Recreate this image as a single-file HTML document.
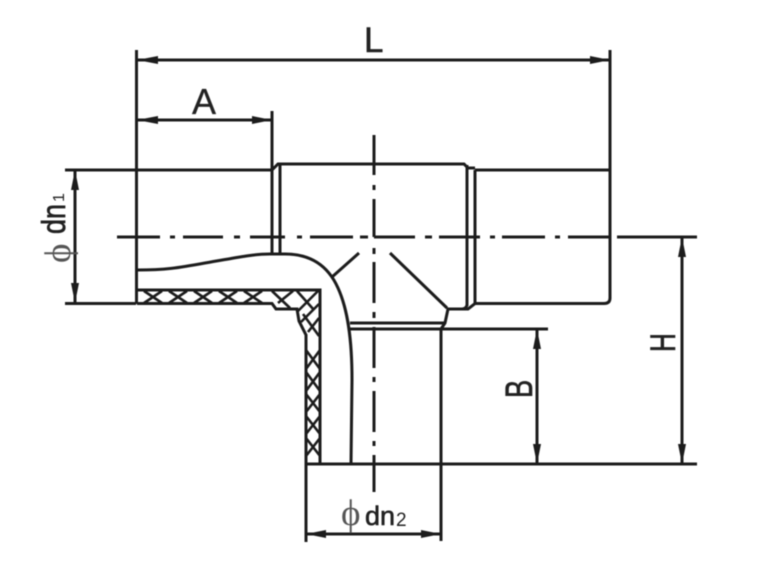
<!DOCTYPE html>
<html><head><meta charset="utf-8">
<style>
html,body{margin:0;padding:0;background:#fff;width:779px;height:567px;overflow:hidden}
svg{display:block;filter:blur(0.4px)}
text{font-family:"Liberation Sans",sans-serif;fill:#222}
</style></head><body>
<svg width="779" height="567" viewBox="0 0 779 567" xmlns="http://www.w3.org/2000/svg">
<rect width="779" height="567" fill="#fff"/>
<g fill="none" stroke="#1c1c1c" stroke-width="3">
<!-- extension and outline lines -->
<path d="M136.5 50V304"/>
<path d="M610 50V298Q610 303.5 604 303.5H475"/>
<path d="M272 111V254"/>
<path d="M65 170H272"/>
<path d="M65 303.5H136"/>
<path d="M280 165V254"/>
<path d="M272 170L278 164H464L468 168H475M610 170H475"/>
<path d="M467 165V306"/>
<path d="M475 170V303.5L468 309H448L445 323L441 329"/>
<path d="M448 309H462Q466 309 467 305"/>
<path d="M350 323H445M350 329H548"/>
<path d="M441 329V541"/>
<path d="M306 464V542"/>
<path d="M306 464H697"/>
<path d="M617 237H697"/>
<path d="M390 253L447 308"/>
<path d="M359 253L332 277"/>
<!-- inner curve -->
<path d="M137 270C165 270 178 268 205 263C235 258 252 254 270 254H285C315 254 330 270 338 288C348 310 352 340 352 380L351 464"/>
<!-- hatched wall -->
<path d="M137 290H320V464"/>
<path d="M137 303.5H272L276 309H297L299 321L306 335V464"/>
<!-- horizontal hatching -->
<path stroke-width="2.6" d="M144 291L162 303M162 291L144 303M169 291L187 303M187 291L169 303M194 291L212 303M212 291L194 303M219 291L237 303M237 291L219 303M244 291L262 303M262 291L244 303"/>
<path stroke-width="2.6" d="M272 291L290 308M278 303L293 291M297 291L314 310M298 311L318 291M301 322L319 304M303 314L319 336M308 332L319 318"/>
<!-- vertical hatching -->
<path stroke-width="2.6" d="M306 350L320 369M320 350L306 369M306 372L320 391M320 372L306 391M306 394L320 412M320 394L306 412M306 416L320 434M320 416L306 434M306 438L320 456M320 438L306 456"/>
<!-- dimension lines -->
<path d="M137 60H610"/>
<path d="M137 120H272"/>
<path d="M75 170V303"/>
<path d="M306 534H441"/>
<path d="M537 329V464"/>
<path d="M682 237V464"/>
<!-- centre lines -->
<path d="M117 237H160M170 237H175M183 237H223M234 237H240M250 237H285M297 237H302M310 237H353M360 237H368M374 237H415M425 237H432M439 237H480M490 237H495M502 237H545M555 237H560M568 237H610"/>
<path d="M374 135V175M374 185V190M374 199V237M374 248V254M374 262V303M374 312V318M374 327V368M374 377V382M374 391V432M374 441V446M374 455V492"/>
</g>
<!-- arrowheads -->
<g fill="#1c1c1c">
<path d="M137 60L158 56V64Z"/>
<path d="M610 60L590 56V64Z"/>
<path d="M137 120L158 116V124Z"/>
<path d="M272 120L252 116V124Z"/>
<path d="M75 170L71 190H79Z"/>
<path d="M75 303L71 283H79Z"/>
<path d="M306 534L326 530V538Z"/>
<path d="M441 534L421 530V538Z"/>
<path d="M537 329L533 349H541Z"/>
<path d="M537 464L533 444H541Z"/>
<path d="M682 237L678 257H686Z"/>
<path d="M682 464L678 444H686Z"/>
</g>
<!-- labels -->
<text x="364" y="52" font-size="35" stroke="#222" stroke-width="0.5">L</text>
<text x="192" y="114" font-size="36" stroke="#222" stroke-width="0.3">A</text>
<g transform="translate(65,263) rotate(-90)">
<text x="0" y="5" font-size="37" style="font-family:'Liberation Serif',serif;fill:#555">ϕ</text>
<text x="0" y="0" transform="translate(29,0) scale(1,1.22)" font-size="27" stroke="#222" stroke-width="0.6">dn</text>
<text x="61" y="-1" font-size="16" fill="#555">1</text>
</g>
<g>
<text x="341" y="525" font-size="37" style="font-family:'Liberation Serif',serif;fill:#555">ϕ</text>
<text x="365" y="525" font-size="27" stroke="#222" stroke-width="0.6">dn</text>
<text x="396" y="526" font-size="19" fill="#555">2</text>
</g>
<text transform="translate(532,398) rotate(-90) scale(0.72,1)" font-size="38" stroke="#222" stroke-width="0.6">B</text>
<text transform="translate(675,352) rotate(-90) scale(0.75,1)" font-size="35" stroke="#222" stroke-width="0.6">H</text>
</svg>
</body></html>
